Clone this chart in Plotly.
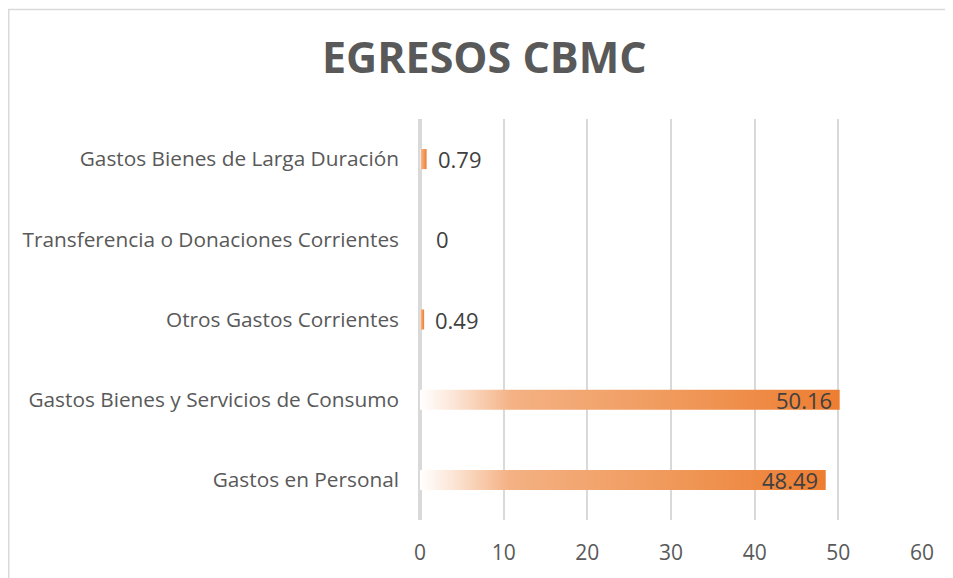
import plotly.graph_objects as go

# ---- data ----
categories = [
    "Gastos en Personal",
    "Gastos Bienes y Servicios de Consumo",
    "Otros Gastos Corrientes",
    "Transferencia o Donaciones Corrientes",
    "Gastos Bienes de Larga Duración",
]
values = [48.49, 50.16, 0.49, 0, 0.79]
value_labels = ["48.49", "50.16", "0.49", "0", "0.79"]
x_ticks = [0, 10, 20, 30, 40, 50, 60]
title_text = "EGRESOS CBMC"

FONT = "Open Sans"
TEXT_GREY = "#595959"
GRID = "#D9D9D9"
HALF = 0.125  # half bar thickness in category units

# figure geometry (page has 8px body margin)
W, H = 945, 570
L, R, T, B = 412, 31, 111, 55
PW, PH = W - L - R, H - T - B

gradient = [[0.0, "rgba(255,255,255,1)"], [0.08, "#FCE6D7"], [0.22, "#F4B183"],
            [0.6, "#F09A5C"], [1.0, "#ED7D31"]]

fig = go.Figure()

for i, v in enumerate(values):
    if v <= 0:
        continue
    fig.add_trace(go.Scatter(
        x=[0, v, v, 0, 0],
        y=[i - HALF, i - HALF, i + HALF, i + HALF, i - HALF],
        mode="lines",
        fill="toself",
        line=dict(width=0, color="#ED7D31"),
        fillgradient=dict(type="horizontal", colorscale=gradient),
        hoverinfo="skip",
        showlegend=False,
    ))

annotations = []
for i, (v, lab) in enumerate(zip(values, value_labels)):
    inside = v > 10
    if inside:
        shift = -6
    else:
        shift = 9 if v > 0 else 14
    annotations.append(dict(
        x=v, y=i, xref="x", yref="y", text=lab, showarrow=False,
        xanchor="right" if inside else "left",
        xshift=shift,
        font=dict(family=FONT, size=22, color="#404040"),
    ))

annotations.append(dict(
    x=0.5, y=1, xref="paper", yref="paper", text=f"<b>{title_text}</b>",
    showarrow=False, xanchor="center", yanchor="middle",
    xshift=476 - (L + PW / 2), yshift=T - 48,
    font=dict(family=FONT, size=43, color=TEXT_GREY),
))

fig.update_layout(
    width=W, height=H,
    margin=dict(l=L, r=R, t=T, b=B),
    paper_bgcolor="white", plot_bgcolor="white",
    showlegend=False,
    annotations=annotations,
    xaxis=dict(
        range=[0, 60], tickvals=x_ticks, ticktext=[str(t) for t in x_ticks],
        showgrid=True, gridcolor=GRID, gridwidth=2,
        zeroline=True, zerolinecolor=GRID, zerolinewidth=4,
        showline=False, ticks="", ticklabelstandoff=18,
        tickfont=dict(family=FONT, size=21, color=TEXT_GREY),
        fixedrange=True,
    ),
    yaxis=dict(
        range=[-0.5, 4.5], tickvals=list(range(len(categories))), ticktext=categories,
        showgrid=False, zeroline=False, showline=False, ticks="",
        ticklabelstandoff=20,
        tickfont=dict(family=FONT, size=20.8, color=TEXT_GREY),
        fixedrange=True,
    ),
    shapes=[dict(
        type="rect", xref="paper", yref="paper",
        x0=(0.75 - L) / PW, x1=(W + 20 - L) / PW,
        y0=-(B + 20) / PH, y1=1 + (T - 0.75) / PH,
        line=dict(color=GRID, width=1.5), fillcolor="rgba(0,0,0,0)", layer="below",
    )],
)

fig.write_html("out.html")
